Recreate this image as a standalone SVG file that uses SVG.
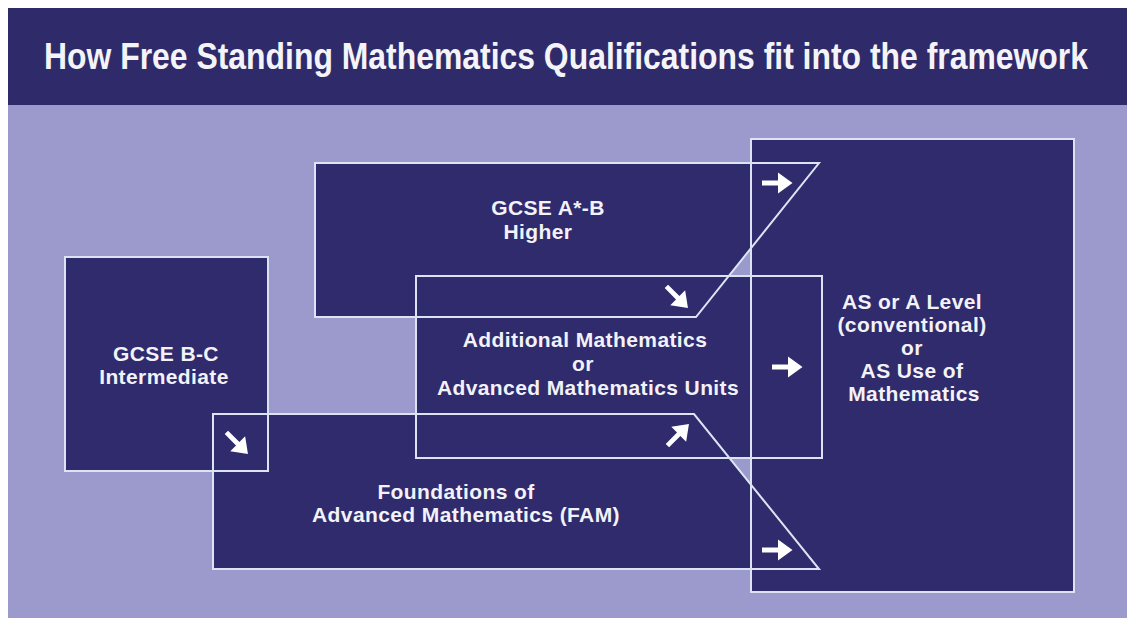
<svg xmlns="http://www.w3.org/2000/svg" xmlns:xlink="http://www.w3.org/1999/xlink" width="1127" height="618" viewBox="0 0 1127 618">
  <style>
    .panel { fill: #2f2b6c; }
    .outline { fill: none; stroke: #dce4f4; stroke-width: 2; stroke-linejoin: miter; }
    .title { font-family: "Liberation Sans", Arial, sans-serif; font-weight: bold; font-size: 33px; fill: #f4f4f8; }
    .label { font-family: "Liberation Sans", Arial, sans-serif; font-weight: bold; font-size: 21px; letter-spacing: 0.4px; fill: #f2f2f8; text-anchor: middle; }
    .arrow { fill: #ffffff; }
  </style>
  <defs>
    <!-- box shapes, shared by the fill layer and the outline layer -->
    <polygon id="shape-higher" points="315,163 819,163 696,317 315,317"/>
    <rect id="shape-intermediate" x="65" y="257" width="203" height="214"/>
    <rect id="shape-additional" x="416" y="276" width="406" height="182"/>
    <polygon id="shape-fam" points="213,414 694,414 819,569 213,569"/>
    <rect id="shape-alevel" x="751" y="139" width="323" height="453"/>
    <!-- small white arrow pointing right, centred on the origin -->
    <polygon id="arrow-right" points="-15,-2.4 1,-2.4 1,-10.5 15.5,0 1,10.5 1,2.4 -15,2.4"/>
  </defs>

  <!-- page background -->
  <rect x="0" y="0" width="1127" height="618" fill="#ffffff"/>
  <rect x="8" y="105" width="1119" height="513" fill="#9c99cc"/>

  <!-- title banner -->
  <g id="banner">
    <rect x="8" y="8" width="1119" height="97" fill="#2f2b6b"/>
    <text class="title" x="0" y="0" transform="translate(44,69) scale(1,1.1)" textLength="1044" lengthAdjust="spacingAndGlyphs">How Free Standing Mathematics Qualifications fit into the framework</text>
  </g>

  <!-- node fills -->
  <g id="node-alevel">
    <use xlink:href="#shape-alevel" class="panel"/>
  </g>
  <g id="node-higher">
    <use xlink:href="#shape-higher" class="panel"/>
  </g>
  <g id="node-intermediate">
    <use xlink:href="#shape-intermediate" class="panel"/>
  </g>
  <g id="node-additional">
    <use xlink:href="#shape-additional" class="panel"/>
  </g>
  <g id="node-fam">
    <use xlink:href="#shape-fam" class="panel"/>
  </g>

  <!-- all outlines sit above every fill so each border stays visible -->
  <g id="outlines">
    <use xlink:href="#shape-alevel" class="outline"/>
    <use xlink:href="#shape-higher" class="outline"/>
    <use xlink:href="#shape-intermediate" class="outline"/>
    <use xlink:href="#shape-additional" class="outline"/>
    <use xlink:href="#shape-fam" class="outline"/>
  </g>

  <!-- node labels -->
  <g id="labels">
    <text class="label" x="548" y="215">GCSE A*-B</text>
    <text class="label" x="538" y="239">Higher</text>

    <text class="label" x="166" y="361">GCSE B-C</text>
    <text class="label" x="164" y="384">Intermediate</text>

    <text class="label" x="585" y="347">Additional Mathematics</text>
    <text class="label" x="583" y="371">or</text>
    <text class="label" x="588" y="395">Advanced Mathematics Units</text>

    <text class="label" x="456" y="499">Foundations of</text>
    <text class="label" x="466" y="522">Advanced Mathematics (FAM)</text>

    <text class="label" x="912" y="309">AS or A Level</text>
    <text class="label" x="912" y="332">(conventional)</text>
    <text class="label" x="912" y="355">or</text>
    <text class="label" x="912" y="378">AS Use of</text>
    <text class="label" x="914" y="401">Mathematics</text>
  </g>

  <!-- progression arrows -->
  <g id="connectors" class="arrow">
    <use xlink:href="#arrow-right" transform="translate(777,183)"/>
    <use xlink:href="#arrow-right" transform="translate(677,297) rotate(45)"/>
    <use xlink:href="#arrow-right" transform="translate(237,443) rotate(45)"/>
    <use xlink:href="#arrow-right" transform="translate(787,367)"/>
    <use xlink:href="#arrow-right" transform="translate(678,435) rotate(-45)"/>
    <use xlink:href="#arrow-right" transform="translate(777,550)"/>
  </g>
</svg>
